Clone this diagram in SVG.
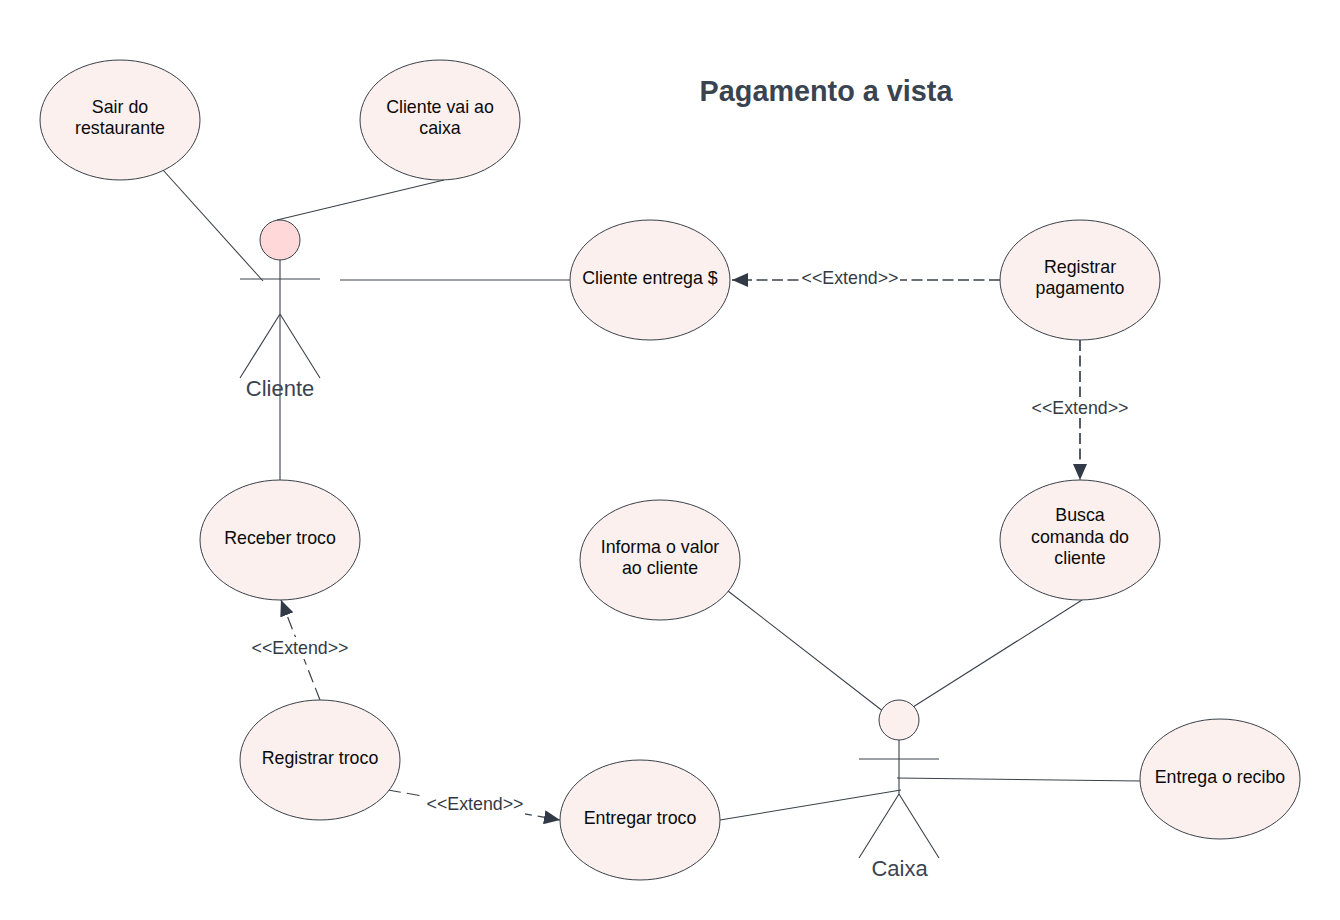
<svg xmlns="http://www.w3.org/2000/svg" width="1340" height="920" viewBox="0 0 1340 920">
<style>
.uc{fill:#fbf0ed;stroke:#3a414a;stroke-width:1}
.t{font-family:"Liberation Sans",Arial,sans-serif;font-size:17.8px;fill:#0a0a0a;text-anchor:middle}
.ln{fill:none;stroke:#3a414a;stroke-width:1.1}
.da{fill:none;stroke:#3a414a;stroke-width:1.7;stroke-dasharray:11 4.500}
.db{fill:none;stroke:#3a414a;stroke-width:1.2;stroke-dasharray:13 6}
.lb{font-family:"Liberation Sans",Arial,sans-serif;font-size:17.8px;fill:#333a45;text-anchor:middle}
.ac{font-family:"Liberation Sans",Arial,sans-serif;font-size:22px;fill:#3a4450;text-anchor:middle}
</style>
<defs>
<marker id="arr" markerUnits="userSpaceOnUse" markerWidth="18" markerHeight="14" refX="16" refY="7" orient="auto"><path d="M0 0L16 7L0 14Z" fill="#333a47"/></marker>
</defs>
<rect width="1340" height="920" fill="#fff"/>
<text x="826" y="101" font-family="Liberation Sans,Arial,sans-serif" font-size="28.800px" font-weight="bold" fill="#3a4450" text-anchor="middle">Pagamento a vista</text>
<g id="connectors">
<path class="ln" d="M163 170L263 281"/>
<path class="ln" d="M444 180L277 220"/>
<path class="ln" d="M340 280H570"/>
<path class="ln" d="M280 315V480"/>
<path class="da" d="M1000 280H732" marker-end="url(#arr)"/>
<path class="da" d="M1080 340V480" marker-end="url(#arr)"/>
<path class="db" d="M320 700L281 600" marker-end="url(#arr)"/>
<path class="db" d="M388 790L560 820" marker-end="url(#arr)"/>
<path class="ln" d="M728 591L884 712"/>
<path class="ln" d="M1082 600L913 707"/>
<path class="ln" d="M720 820L901 790"/>
<path class="ln" d="M897 778L1140 781"/>
<rect x="800" y="268" width="100" height="22" fill="#fff"/>
<text class="lb" x="850" y="283.500">&lt;&lt;Extend&gt;&gt;</text>
<rect x="1030" y="397" width="100" height="21" fill="#fff"/>
<text class="lb" x="1080" y="413.500">&lt;&lt;Extend&gt;&gt;</text>
<rect x="250" y="637" width="100" height="22" fill="#fff"/>
<text class="lb" x="300" y="653.500">&lt;&lt;Extend&gt;&gt;</text>
<rect x="425" y="793" width="100" height="22" fill="#fff"/>
<text class="lb" x="475" y="809.500">&lt;&lt;Extend&gt;&gt;</text>
</g>
<g id="sair"><ellipse class="uc" cx="120" cy="120" rx="80" ry="60"/><text class="t" x="120" y="112.500">Sair do</text><text class="t" x="120" y="133.500">restaurante</text></g>
<g id="caixa-uc"><ellipse class="uc" cx="440" cy="120" rx="80" ry="60"/><text class="t" x="440" y="112.500">Cliente vai ao</text><text class="t" x="440" y="133.500">caixa</text></g>
<g id="entrega"><ellipse class="uc" cx="650" cy="280" rx="80" ry="60"/><text class="t" x="650" y="283.500">Cliente entrega $</text></g>
<g id="registrar-pag"><ellipse class="uc" cx="1080" cy="280" rx="80" ry="60"/><text class="t" x="1080" y="272.500">Registrar</text><text class="t" x="1080" y="293.500">pagamento</text></g>
<g id="receber"><ellipse class="uc" cx="280" cy="540" rx="80" ry="60"/><text class="t" x="280" y="543.500">Receber troco</text></g>
<g id="informa"><ellipse class="uc" cx="660" cy="560" rx="80" ry="60"/><text class="t" x="660" y="552.500">Informa o valor</text><text class="t" x="660" y="573.500">ao cliente</text></g>
<g id="busca"><ellipse class="uc" cx="1080" cy="540" rx="80" ry="60"/><text class="t" x="1080" y="521">Busca</text><text class="t" x="1080" y="542.500">comanda do</text><text class="t" x="1080" y="563.500">cliente</text></g>
<g id="registrar-troco"><ellipse class="uc" cx="320" cy="760" rx="80" ry="60"/><text class="t" x="320" y="763.500">Registrar troco</text></g>
<g id="entregar"><ellipse class="uc" cx="640" cy="820" rx="80" ry="60"/><text class="t" x="640" y="823.500">Entregar troco</text></g>
<g id="recibo"><ellipse class="uc" cx="1220" cy="779" rx="80" ry="60"/><text class="t" x="1220" y="782.500">Entrega o recibo</text></g>
<g id="cliente"><circle cx="280" cy="240" r="20" fill="#ffd9d9" stroke="#3a414a"/><path class="ln" d="M280 260V314M240 279H320M280 314L240 378M280 314L320 378"/><text class="ac" x="280" y="396">Cliente</text></g>
<g id="caixa"><circle cx="899" cy="720" r="20" fill="#fbf0ed" stroke="#3a414a"/><path class="ln" d="M899 740V794M859 759H939M899 794L859 858M899 794L939 858"/><text class="ac" x="899.500" y="876">Caixa</text></g>
</svg>
